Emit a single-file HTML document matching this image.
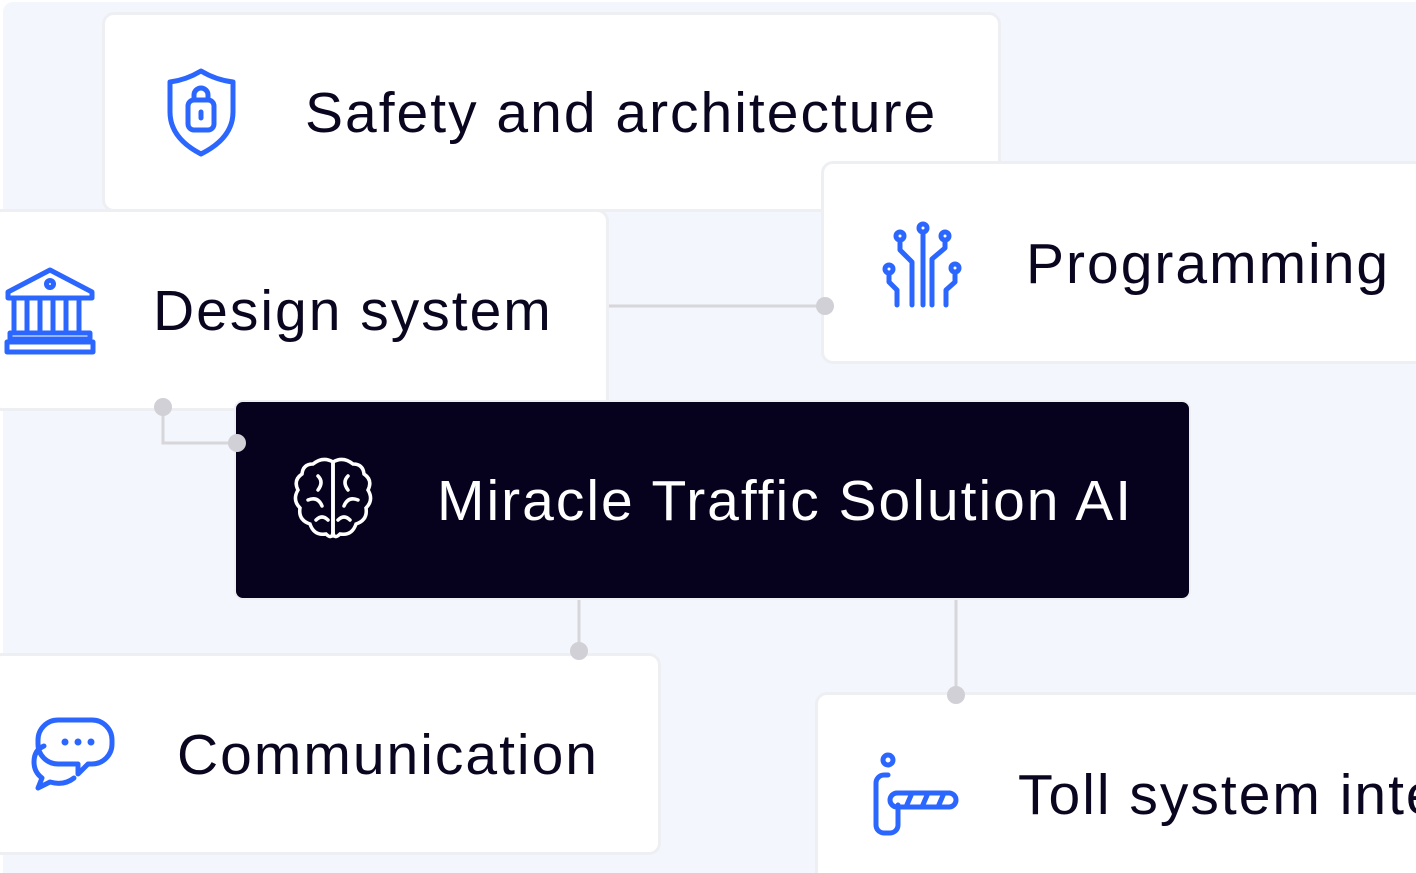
<!DOCTYPE html>
<html><head><style>
html,body{margin:0;padding:0;width:1416px;height:873px;overflow:hidden;background:#fff}
#w{position:relative;width:1416px;height:873px;overflow:hidden}
.bg{position:absolute;left:3px;top:2px;width:1413px;height:871px;background:#f3f6fd;border-radius:10px 0 0 0}
.card{position:absolute;background:#fff;border:3px solid #eeeff3;border-radius:12px;box-sizing:border-box}
.t{position:absolute;font-family:"Liberation Sans",sans-serif;font-size:57px;letter-spacing:2px;color:#0a0620;white-space:nowrap;line-height:1}
svg{position:absolute;overflow:visible}
</style></head><body><div id="w">
<div class="bg"></div>
<svg style="left:0;top:0" width="1416" height="873">
<g stroke="#d6d6db" stroke-width="3" fill="none">
<line x1="605" y1="306" x2="825" y2="306"/>
<polyline points="163,407 163,443 237,443"/>
<line x1="579" y1="598" x2="579" y2="651"/>
<line x1="956" y1="598" x2="956" y2="695"/>
</g>
</svg>
<div class="card" style="left:102px;top:12px;width:899px;height:200px"></div>
<div class="card" style="left:-10px;top:209px;width:619px;height:202px"></div>
<div class="card" style="left:821px;top:161px;width:610px;height:203px"></div>
<div class="card" style="left:-10px;top:653px;width:671px;height:202px"></div>
<div class="card" style="left:815px;top:692px;width:620px;height:200px"></div>
<div style="position:absolute;left:234px;top:400px;width:957px;height:200px;background:#06021d;border-radius:9px;border:2px solid #eeeff3;box-sizing:border-box"></div>
<svg style="left:0;top:0" width="1416" height="873">
<g fill="#d0d0d6">
<circle cx="825" cy="306" r="9"/><circle cx="163" cy="407" r="9"/><circle cx="237" cy="443" r="9"/>
<circle cx="579" cy="651" r="9"/><circle cx="956" cy="695" r="9"/>
</g>
<g stroke="#2b67ff" stroke-width="5" fill="none" stroke-linejoin="round" stroke-linecap="round">
<path d="M201 71 Q186 80 170 82 L170 112 Q170 138 201 154 Q233 138 233 112 L233 82 Q216 80 201 71Z"/>
<rect x="188" y="100" width="26" height="30" rx="6"/><path d="M194 100 v-5 a7 7 0 0 1 14 0 v5"/><path d="M201 112 v6"/>
<path d="M8 292 L50 270 L92 292 V298 H8Z"/><circle cx="50" cy="284" r="3.5"/>
<path d="M14 300 V330 M27 300 V330 M40 300 V330 M53 300 V330 M66 300 V330 M79 300 V330"/>
<rect x="10" y="333" width="80" height="6"/><rect x="7" y="342" width="86" height="10"/>
<circle cx="923" cy="228" r="4"/><circle cx="900" cy="236" r="4"/><circle cx="945" cy="236" r="4"/><circle cx="889" cy="269" r="4"/><circle cx="955" cy="268" r="4"/>
<path d="M923 232 V305 M900 240 V250 L912 262 V305 M945 240 V248 L932 259 V305 M889 273 V282 L897 290 V305 M955 272 V282 L946 290 V305"/>
<path d="M58 720 h34 a20 20 0 0 1 20 20 v4 a20 20 0 0 1 -20 20 h-4 l-10 10 v-10 h-20 a20 20 0 0 1 -20 -20 v-4 a20 20 0 0 1 20 -20z"/>
<path d="M44 746 q-10 4 -10 16 q0 10 8 16 l-4 10 12 -6 q14 4 24 -4"/>
<circle cx="888" cy="760" r="5"/>
<path d="M888 775 h-4 a8 8 0 0 0 -8 8 v42 a8 8 0 0 0 8 8 h6 a8 8 0 0 0 8 -8 v-20"/>
<rect x="890" y="793" width="66" height="14" rx="7"/><path d="M906 807 l6 -14 M922 807 l6 -14 M938 807 l6 -14"/>
</g>
<g fill="#2b67ff"><circle cx="65" cy="742" r="3.5"/><circle cx="78" cy="742" r="3.5"/><circle cx="91" cy="742" r="3.5"/></g>
<g stroke="#fff" stroke-width="3.5" fill="none" stroke-linecap="round">
<path d="M333 462 q-10 -6 -20 2 q-10 0 -11 10 q-9 6 -4 16 q-6 10 2 18 q-2 12 10 16 q4 12 16 10 q6 6 7 -2 Z"/>
<path d="M333 462 q10 -6 20 2 q10 0 11 10 q9 6 4 16 q6 10 -2 18 q2 12 -10 16 q-4 12 -16 10 q-6 6 -7 -2 Z"/>
<path d="M333 462 V536 M318 476 q6 6 0 14 M348 476 q-6 6 0 14 M308 500 q10 -4 14 6 M358 500 q-10 -4 -14 6 M316 520 q6 -6 12 0 M350 520 q-6 -6 -12 0"/>
</g>
</svg>
<div class="t" style="left:305px;top:85px">Safety and architecture</div>
<div class="t" style="left:153px;top:283px">Design system</div>
<div class="t" style="left:1026px;top:236px">Programming</div>
<div class="t" style="left:437px;top:473px;color:#fff">Miracle Traffic Solution AI</div>
<div class="t" style="left:177px;top:727px">Communication</div>
<div class="t" style="left:1018px;top:767px">Toll system integration</div>
</div></body></html>
